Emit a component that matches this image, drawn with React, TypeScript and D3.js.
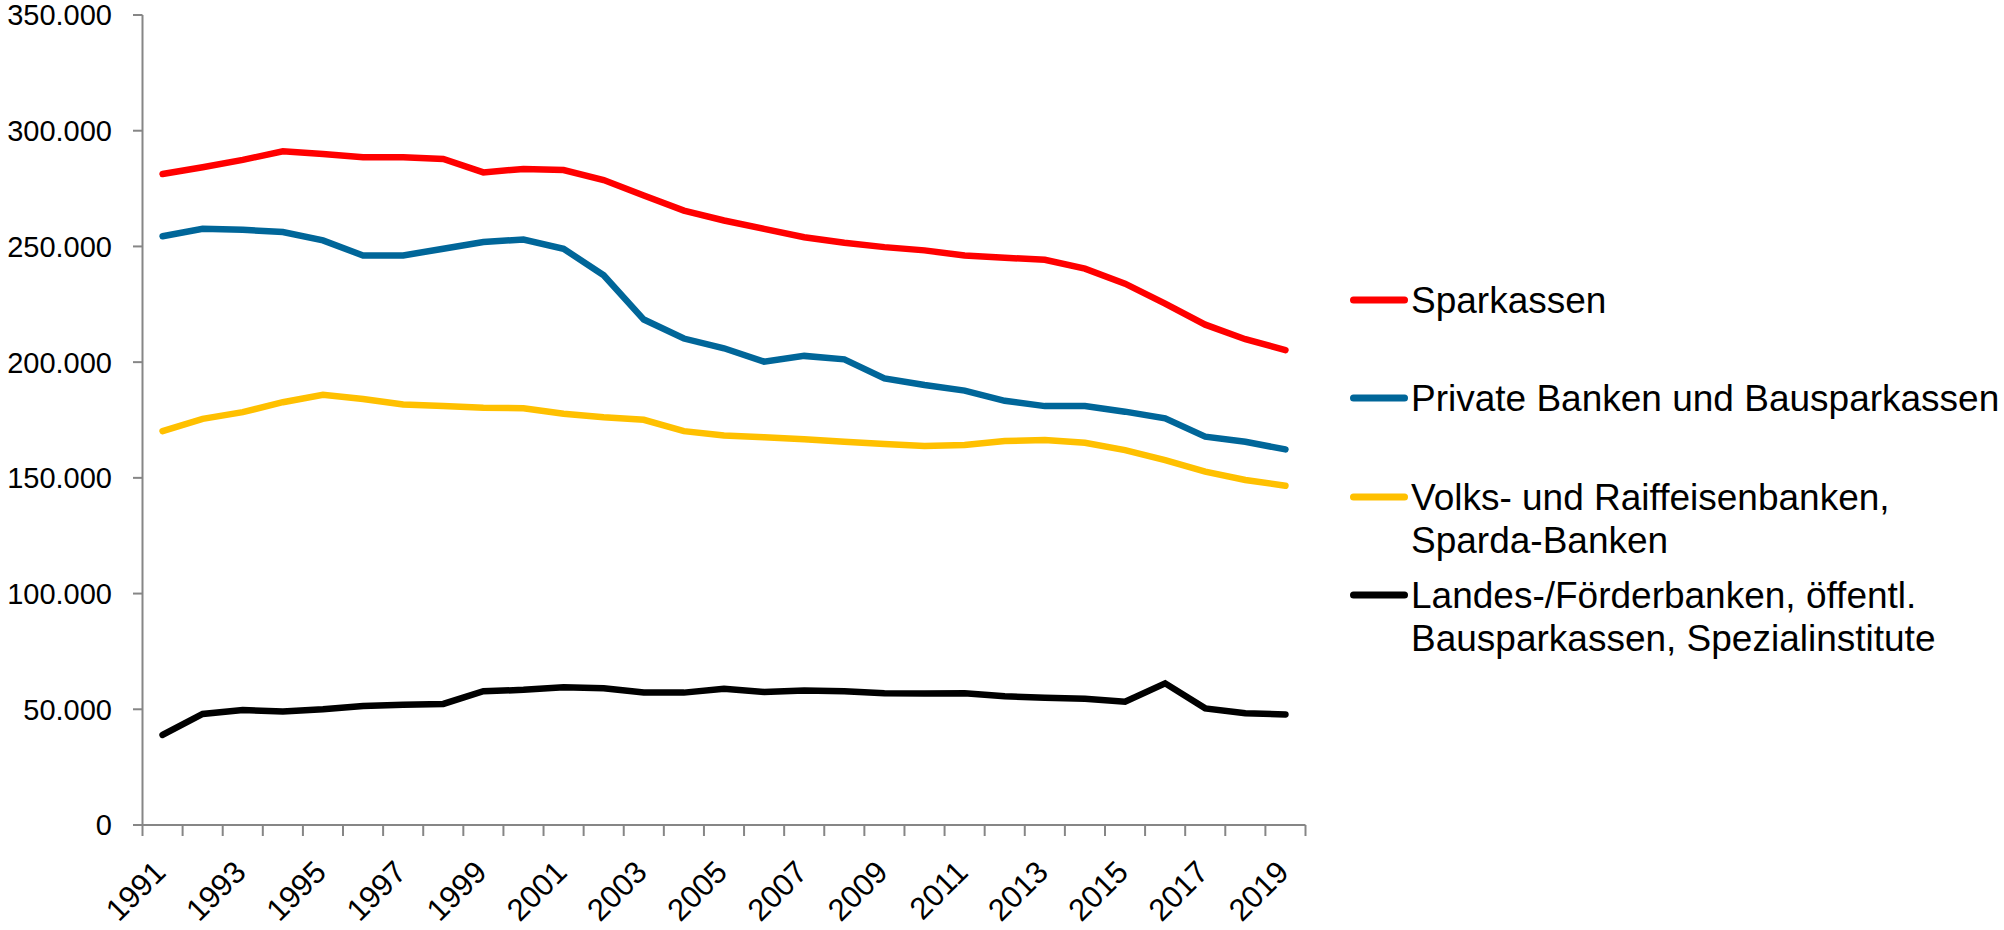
import React from "react";
import * as d3 from "d3";

const years = ["1991","1992","1993","1994","1995","1996","1997","1998","1999","2000","2001","2002","2003","2004","2005","2006","2007","2008","2009","2010","2011","2012","2013","2014","2015","2016","2017","2018","2019"];

const sparkassen = [281300, 284200, 287400, 291100, 289900, 288500, 288500, 287800, 282000, 283500, 283000, 278700, 272000, 265500, 261200, 257600, 254000, 251600, 249700, 248300, 246100, 245100, 244200, 240400, 233900, 225300, 216200, 209900, 205200];
const privateBanken = [254400, 257600, 257200, 256200, 252600, 246100, 246100, 249000, 251900, 253000, 249000, 237500, 218400, 210200, 206000, 200200, 202700, 201200, 193000, 190100, 187700, 183300, 181000, 181000, 178600, 175700, 167800, 165600, 162300];
const volksbanken = [170200, 175500, 178400, 182700, 185900, 184100, 181700, 181000, 180300, 180100, 177700, 176200, 175100, 170200, 168300, 167500, 166700, 165600, 164600, 163800, 164200, 165900, 166400, 165200, 162000, 157700, 152700, 149100, 146600];
const landesbanken = [38900, 48000, 49700, 49000, 50000, 51400, 52000, 52300, 57800, 58400, 59500, 59100, 57300, 57200, 58900, 57500, 58100, 57800, 56900, 56800, 56900, 55600, 55000, 54500, 53300, 61200, 50400, 48300, 47800];

const yTicks = [0, 50000, 100000, 150000, 200000, 250000, 300000, 350000];
const xLabelYears = ["1991","1993","1995","1997","1999","2001","2003","2005","2007","2009","2011","2013","2015","2017","2019"];

const seriesNames = [
  ["Sparkassen"],
  ["Private Banken und Bausparkassen"],
  ["Volks- und Raiffeisenbanken,", "Sparda-Banken"],
  ["Landes-/Förderbanken, öffentl.", "Bausparkassen, Spezialinstitute"],
];
const seriesValues = [sparkassen, privateBanken, volksbanken, landesbanken];
const seriesColors = ["#FF0000", "#006699", "#FFC000", "#000000"];

const W = 2004, H = 930;
const FONT = "'Liberation Sans', Arial, sans-serif";

export default function App() {
  const x = d3.scaleBand<string>().domain(years).range([142.5, 1305.5]).padding(0);
  const y = d3.scaleLinear().domain([0, 350000]).range([825, 15]);
  const locale = d3.formatLocale({ decimal: ",", thousands: ".", grouping: [3], currency: ["", ""] });
  const fmt = locale.format(",");
  const cx = (yr: string) => (x(yr) as number) + x.bandwidth() / 2;
  const line = d3.line<number>().x((_, i) => cx(years[i])).y((v) => y(v));
  const axisColor = "#868686";
  const bounds = [...years.map((yr) => x(yr) as number), 1305.5];

  const legendY = [[300], [398], [497, 540], [595, 638]];

  return (
    <svg width={W} height={H} style={{ position: "absolute", left: 0, top: 0, background: "#fff" }} fontFamily={FONT}>
      <rect x={0} y={0} width={W} height={H} fill="#fff" />
      {/* Y axis */}
      <line x1={142.5} x2={142.5} y1={y(350000)} y2={825} stroke={axisColor} strokeWidth={2} />
      {yTicks.map((t) => (
        <g key={t}>
          <line x1={133} x2={142.5} y1={y(t)} y2={y(t)} stroke={axisColor} strokeWidth={2} />
          <text x={112} y={y(t)} dy="0.36em" textAnchor="end" fontSize={29} fill="#000">{fmt(t)}</text>
        </g>
      ))}
      {/* X axis */}
      <line x1={142.5} x2={1305.5} y1={825} y2={825} stroke={axisColor} strokeWidth={2} />
      {bounds.map((b, i) => (
        <line key={i} x1={b} x2={b} y1={825} y2={836} stroke={axisColor} strokeWidth={2} />
      ))}
      {xLabelYears.map((yr) => (
        <text key={yr} transform={`translate(${cx(yr) + 5},874) rotate(-45)`} textAnchor="end" fontSize={31} fill="#000">{yr}</text>
      ))}
      {/* Lines */}
      {seriesValues.map((vals, k) => (
        <path key={k} d={line(vals) || ""} fill="none" stroke={seriesColors[k]} strokeWidth={6.5} strokeLinecap="round" strokeLinejoin="miter" />
      ))}
      {/* Legend */}
      {seriesNames.map((lines, k) => (
        <g key={k}>
          <line x1={1353.5} x2={1404.5} y1={legendY[k][0]} y2={legendY[k][0]} stroke={seriesColors[k]} strokeWidth={7} strokeLinecap="round" />
          {lines.map((t, j) => (
            <text key={j} x={1411} y={legendY[k][j]} dy="0.36em" fontSize={37} fill="#000">{t}</text>
          ))}
        </g>
      ))}
    </svg>
  );
}
